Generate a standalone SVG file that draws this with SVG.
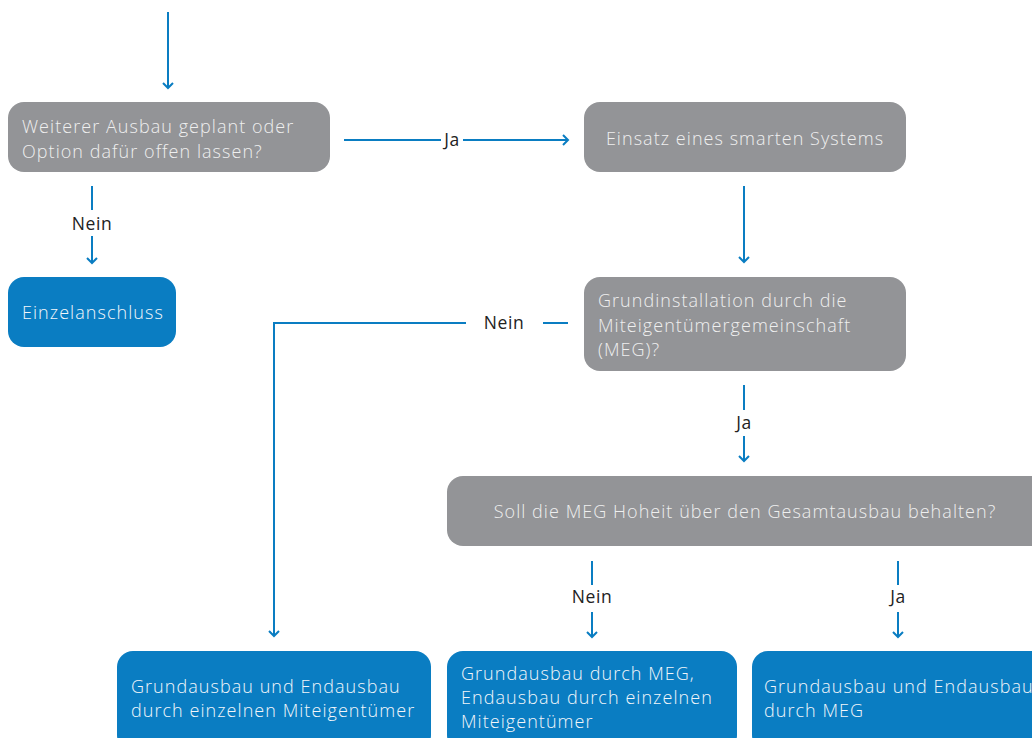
<svg xmlns="http://www.w3.org/2000/svg" width="1032" height="738" viewBox="0 0 1032 738">
<defs>
<marker id="ah" markerWidth="12" markerHeight="12" refX="6" refY="6" orient="auto" markerUnits="userSpaceOnUse">
<path d="M1,1 L6,6 L1,11" fill="none" stroke="#0a7dc2" stroke-width="2"/>
</marker>
<style>
.g{fill:#939497}
.b{fill:#0a7dc2}
.tg{font-family:"Open Sans","Liberation Sans",sans-serif;font-size:18px;font-weight:300;fill:#efefef;letter-spacing:1.05px}
.tb{font-family:"Open Sans","Liberation Sans",sans-serif;font-size:18px;font-weight:300;fill:#f2f6fa;letter-spacing:1.05px}
.lb{font-family:"Open Sans","Liberation Sans",sans-serif;font-size:17.5px;fill:#222;letter-spacing:0.6px}
.c{fill:none;stroke:#0a7dc2;stroke-width:2}
</style>
</defs>
<rect width="1032" height="738" fill="#fff"/>
<g id="connectors">
<line class="c" x1="168" y1="12" x2="168" y2="88" marker-end="url(#ah)"/>
<line class="c" x1="344" y1="140" x2="441" y2="140"/>
<line class="c" x1="463" y1="140" x2="568" y2="140" marker-end="url(#ah)"/>
<text class="lb" x="452" y="146" text-anchor="middle">Ja</text>
<line class="c" x1="92" y1="186" x2="92" y2="210"/>
<text class="lb" x="92" y="230" text-anchor="middle">Nein</text>
<line class="c" x1="92" y1="236" x2="92" y2="263" marker-end="url(#ah)"/>
<line class="c" x1="744" y1="186" x2="744" y2="262" marker-end="url(#ah)"/>
<line class="c" x1="568" y1="323" x2="543" y2="323"/>
<text class="lb" x="504" y="329" text-anchor="middle">Nein</text>
<polyline class="c" points="466,323 274,323 274,636" marker-end="url(#ah)"/>
<line class="c" x1="744" y1="385" x2="744" y2="410"/>
<text class="lb" x="744" y="429" text-anchor="middle">Ja</text>
<line class="c" x1="744" y1="436" x2="744" y2="461" marker-end="url(#ah)"/>
<line class="c" x1="592" y1="561" x2="592" y2="585"/>
<text class="lb" x="592" y="603" text-anchor="middle">Nein</text>
<line class="c" x1="592" y1="612" x2="592" y2="637" marker-end="url(#ah)"/>
<line class="c" x1="898" y1="561" x2="898" y2="585"/>
<text class="lb" x="898" y="603" text-anchor="middle">Ja</text>
<line class="c" x1="898" y1="612" x2="898" y2="637" marker-end="url(#ah)"/>
</g>
<g id="n1">
<rect class="g" x="8" y="102" width="322" height="70" rx="16"/>
<text class="tg" x="22" y="133">Weiterer Ausbau geplant oder</text>
<text class="tg" x="22" y="158">Option dafür offen lassen?</text>
</g>
<g id="n2">
<rect class="g" x="584" y="102" width="322" height="70" rx="16"/>
<text class="tg" x="745" y="145" text-anchor="middle">Einsatz eines smarten Systems</text>
</g>
<g id="n3">
<rect class="b" x="8" y="277" width="168" height="70" rx="16"/>
<text class="tb" x="22" y="319">Einzelanschluss</text>
</g>
<g id="n4">
<rect class="g" x="584" y="277" width="322" height="94" rx="16"/>
<text class="tg" x="598" y="307">Grundinstallation durch die</text>
<text class="tg" x="598" y="332">Miteigentümergemeinschaft</text>
<text class="tg" x="598" y="356">(MEG)?</text>
</g>
<g id="n5">
<rect class="g" x="447" y="476" width="600" height="70" rx="16"/>
<text class="tg" x="745" y="518" text-anchor="middle">Soll die MEG Hoheit über den Gesamtausbau behalten?</text>
</g>
<g id="n6">
<rect class="b" x="117" y="651" width="314" height="100" rx="16"/>
<text class="tb" x="131" y="693">Grundausbau und Endausbau</text>
<text class="tb" x="131" y="717">durch einzelnen Miteigentümer</text>
</g>
<g id="n7">
<rect class="b" x="447" y="651" width="290" height="100" rx="16"/>
<text class="tb" x="461" y="680">Grundausbau durch MEG,</text>
<text class="tb" x="461" y="704">Endausbau durch einzelnen</text>
<text class="tb" x="461" y="728">Miteigentümer</text>
</g>
<g id="n8">
<rect class="b" x="752" y="651" width="300" height="100" rx="16"/>
<text class="tb" x="764" y="693">Grundausbau und Endausbau</text>
<text class="tb" x="764" y="717">durch MEG</text>
</g>
</svg>
